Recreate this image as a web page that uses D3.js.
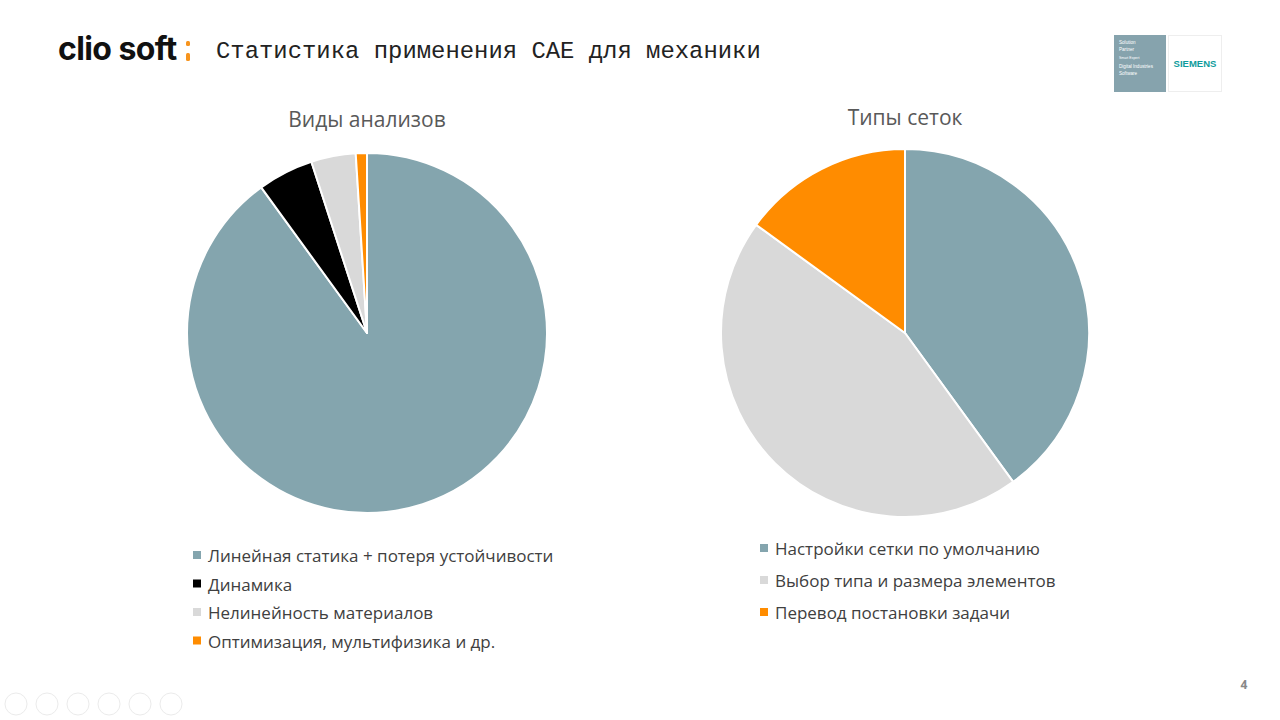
<!DOCTYPE html>
<html><head><meta charset="utf-8">
<script src="https://cdn.jsdelivr.net/npm/d3@7"></script>
<style>body{margin:0;background:#fff}svg{display:block}</style>
</head><body>
<svg id="c" width="1280" height="720"></svg>
<script>
const pageTitle = "Статистика применения CAE для механики";
const chart1Title = "Виды анализов";
const chart1Labels = ["Линейная статика + потеря устойчивости", "Динамика", "Нелинейность материалов", "Оптимизация, мультифизика и др."];
const chart1Values = [90, 5, 4, 1];
const chart2Title = "Типы сеток";
const chart2Labels = ["Настройки сетки по умолчанию", "Выбор типа и размера элементов", "Перевод постановки задачи"];
const chart2Values = [40, 45, 15];
const colors1 = ["#84A5AE", "#000000", "#D9D9D9", "#FF8C00"];
const colors2 = ["#84A5AE", "#D9D9D9", "#FF8C00"];

const svg = d3.select("#c");

// header
svg.append("text").attr("x", 58).attr("y", 60)
  .attr("font-family", "Inter, Roboto, sans-serif").attr("font-weight", 700)
  .attr("font-size", 32).attr("letter-spacing", -0.6).attr("fill", "#111").text("clio soft");
svg.append("rect").attr("x", 186).attr("y", 41).attr("width", 4).attr("height", 5).attr("rx", 1.5).attr("fill", "#F7941D");
svg.append("rect").attr("x", 186).attr("y", 53).attr("width", 4).attr("height", 8).attr("rx", 1.5).attr("fill", "#F7941D");
svg.append("text").attr("x", 216).attr("y", 58)
  .attr("font-family", "'Liberation Mono', 'DejaVu Sans Mono', monospace")
  .attr("font-size", 23.9).attr("fill", "#222").text(pageTitle);

// Siemens partner badge
svg.append("rect").attr("x", 1114).attr("y", 35).attr("width", 52).attr("height", 57).attr("fill", "#86A3AD");
const bt = [["Solution",44],["Partner",51],["Smart Expert",59],["Digital Industries",68],["Software",75]];
bt.forEach(([t,y]) => svg.append("text").attr("x", 1119).attr("y", y).attr("font-family","'Liberation Sans', sans-serif")
  .attr("font-size", t==="Smart Expert"?3.5:4.6).attr("fill","#fff").text(t));
svg.append("rect").attr("x", 1168.5).attr("y", 35.5).attr("width", 53).attr("height", 56).attr("fill", "#fff").attr("stroke", "#eee");
svg.append("text").attr("x", 1195).attr("y", 67).attr("text-anchor","middle")
  .attr("font-family","'Liberation Sans', Arial, sans-serif").attr("font-weight",700)
  .attr("font-size", 9.5).attr("fill","#0e9c9c").text("SIEMENS");

// page number
svg.append("text").attr("x", 1244).attr("y", 689).attr("text-anchor","middle")
  .attr("font-family","'Open Sans', sans-serif").attr("font-weight",700)
  .attr("font-size", 12).attr("fill","#888").text("4");

// nav icons
[16,47,78,109,140,171].forEach(cx => svg.append("circle").attr("cx", cx).attr("cy", 704).attr("r", 11)
  .attr("fill","none").attr("stroke","#ebebeb").attr("stroke-width",1));

function drawPie(cx, cy, r, title, titleY, labels, values, colors, legX, legY0, legStep) {
  const g = svg.append("g");
  g.append("text").attr("x", cx).attr("y", titleY).attr("text-anchor","middle")
    .attr("font-family","'Open Sans', sans-serif").attr("font-size", 21).attr("fill","#595959").text(title);
  const pie = d3.pie().sort(null).value(d => d)(values);
  const arc = d3.arc().innerRadius(0).outerRadius(r);
  g.append("g").attr("transform", `translate(${cx},${cy})`).selectAll("path").data(pie).join("path")
    .attr("d", arc).attr("fill", (d,i) => colors[i]).attr("stroke","#fff").attr("stroke-width",2).attr("stroke-linejoin","round");
  const leg = g.append("g");
  labels.forEach((l,i) => {
    const y = legY0 + i*legStep;
    leg.append("rect").attr("x", legX).attr("y", y-11).attr("width", 8).attr("height", 8).attr("fill", colors[i]);
    leg.append("text").attr("x", legX+15).attr("y", y).attr("font-family","'Open Sans', sans-serif")
      .attr("font-size", 17).attr("fill","#404040").text(l);
  });
}
drawPie(367, 333, 180, chart1Title, 127, chart1Labels, chart1Values, colors1, 193, 562, 28.5);
drawPie(905, 333, 184, chart2Title, 125, chart2Labels, chart2Values, colors2, 760, 555, 32);
</script>
</body></html>
